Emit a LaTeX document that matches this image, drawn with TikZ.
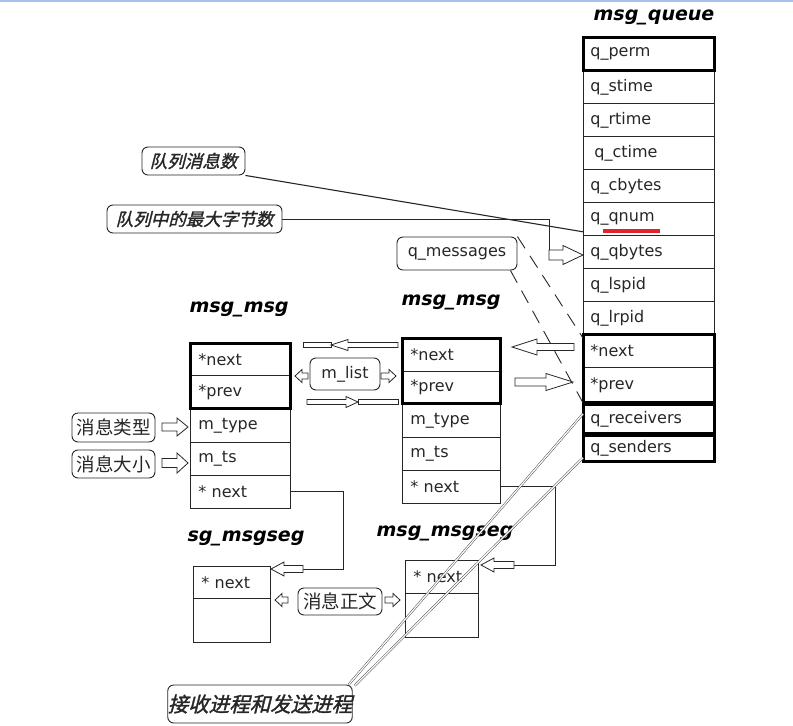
\documentclass[tikz,border=0pt]{standalone}
\usepackage{fontspec}
\newfontfamily\lab{DejaVu Sans}
\newfontfamily\ttl[FakeSlant=0.2]{DejaVu Sans}
\newfontfamily\cjk{Noto Sans CJK SC}
\newfontfamily\cjkit[FakeSlant=0.25,FakeBold=1.5]{Noto Sans CJK SC}
\newcommand{\blockarr}[6]{%
  \pgfmathsetmacro{\hb}{#2-sign(#2-#1)*#6}%
  \draw[blockarrow] (#1,{#3-#4}) -- (\hb,{#3-#4}) -- (\hb,{#3-#5}) -- (#2,#3) -- (\hb,{#3+#5}) -- (\hb,{#3+#4}) -- (#1,{#3+#4}) -- cycle;}
\tikzset{
  row/.style={draw=black!85, line width=0.8pt, rectangle, anchor=north west, inner xsep=7pt, inner ysep=0pt, align=left, font=\lab\fontsize{16}{18}\selectfont, text=black!85},
  title/.style={font=\ttl\bfseries\fontsize{19}{21}\selectfont, inner sep=0pt},
  callout/.style={draw=black!85, line width=0.9pt, rounded corners=6pt, inner sep=0pt, font=\lab\fontsize{16}{18}\selectfont, text=black!85},
  cjkcall/.style={callout, font=\cjkit\fontsize{17.5}{20}\selectfont},
  cjkplain/.style={callout, font=\cjk\fontsize{18.5}{20}\selectfont},
  blockarrow/.style={draw=black!85, line width=0.8pt, fill=white},
  thickbox/.style={draw=black, line width=3pt},
  link/.style={draw=black!85, line width=0.9pt},
  dashlink/.style={draw=black!85, line width=0.9pt, dash pattern=on 14pt off 9pt},
  duallink/.style={draw=black!70, line width=0.5pt, double=white, double distance=1.2pt},
}
\begin{document}
\begin{tikzpicture}[x=1pt,y=-1pt]
\useasboundingbox (0,0) rectangle (793,726);
\draw[color={rgb,255:red,170;green,192;blue,235}, line width=2pt] (0,1) -- (793,1);

% ---- msg_queue ----
\node[title] (tq) at (653,17) {msg\_queue};
\node[row, text width=117pt, minimum height=33pt] (qperm) at (583,37) {q\_perm};
\node[row, text width=117pt, minimum height=33pt] (qstime) at (583,70) {q\_stime};
\node[row, text width=117pt, minimum height=33pt] (qrtime) at (583,103) {q\_rtime};
\node[row, text width=117pt, minimum height=33pt] (qctime) at (583,136) {\hspace{4pt}q\_ctime};
\node[row, text width=117pt, minimum height=33pt] (qcbytes) at (583,169) {q\_cbytes};
\node[row, text width=117pt, minimum height=33pt] (qqnum) at (583,202) {q\_qnum};
\node[row, text width=117pt, minimum height=33pt] (qqbytes) at (583,235) {q\_qbytes};
\node[row, text width=117pt, minimum height=33pt] (qlspid) at (583,268) {q\_lspid};
\node[row, text width=117pt, minimum height=33pt] (qlrpid) at (583,301) {q\_lrpid};
\node[row, text width=117pt, minimum height=33pt] (qnext) at (583,334) {*next};
\node[row, text width=117pt, minimum height=35pt] (qprev) at (583,367) {*prev};
\node[row, text width=117pt, minimum height=29pt] (qrecv) at (583,404) {q\_receivers};
\node[row, text width=117pt, minimum height=26pt] (qsend) at (583,435) {q\_senders};
\draw[thickbox] (qperm.north west) rectangle (qperm.south east);
\draw[thickbox] (qnext.north west) rectangle (qprev.south east);
\draw[thickbox] (qrecv.north west) rectangle (qrecv.south east);
\draw[thickbox] (qsend.north west) rectangle (qsend.south east);
\draw[line width=3.5pt, color={rgb,255:red,225;green,35;blue,45}] (603,231) -- (660,231);

% ---- msg_msg A ----
\node[title] (ta) at (238,309) {msg\_msg};
\node[row, inner xsep=8pt, text width=84pt, minimum height=32pt] (anext) at (190,343) {*next};
\node[row, inner xsep=8pt, text width=84pt, minimum height=33pt] (aprev) at (190,375) {*prev};
\node[row, inner xsep=8pt, text width=84pt, minimum height=34pt] (atype) at (190,408) {m\_type};
\node[row, inner xsep=8pt, text width=84pt, minimum height=33pt] (ats) at (190,442) {m\_ts};
\node[row, inner xsep=8pt, text width=84pt, minimum height=33pt] (anx) at (190,475) {* next};
\draw[thickbox] (anext.north west) rectangle (aprev.south east);

% ---- msg_msg B ----
\node[title] (tb) at (450,302) {msg\_msg};
\node[row, inner xsep=8pt, text width=82pt, minimum height=33pt] (bnext) at (402,338) {*next};
\node[row, inner xsep=8pt, text width=82pt, minimum height=32pt] (bprev) at (402,371) {*prev};
\node[row, inner xsep=8pt, text width=82pt, minimum height=34pt] (btype) at (402,403) {m\_type};
\node[row, inner xsep=8pt, text width=82pt, minimum height=33pt] (bts) at (402,437) {m\_ts};
\node[row, inner xsep=8pt, text width=82pt, minimum height=33pt] (bnx) at (402,470) {* next};
\draw[thickbox] (bnext.north west) rectangle (bprev.south east);

% ---- msgseg C ----
\node[title] (tc) at (245,538) {sg\_msgseg};
\node[row, inner xsep=8pt, text width=61pt, minimum height=32pt] (cnx) at (193,566) {* next};
\node[row, inner xsep=8pt, text width=61pt, minimum height=44pt] (cbd) at (193,598) {};

% ---- msgseg D ----
\node[title] (td) at (444,533) {msg\_msgseg};
\node[row, inner xsep=8pt, text width=57pt, minimum height=33pt] (dnx) at (405,560) {* next};
\node[row, inner xsep=8pt, text width=57pt, minimum height=44pt] (dbd) at (405,593) {};

% ---- callouts ----
\node[cjkcall, minimum width=103pt, minimum height=28pt] (cnum) at (193.5,161) {队列消息数};
\node[cjkcall, minimum width=175pt, minimum height=28pt] (cmax) at (194.5,219) {队列中的最大字节数};
\node[callout, minimum width=120pt, minimum height=33pt] (qmsg) at (457,253.5) {q\_messages};
\node[callout, minimum width=70pt, minimum height=32pt] (mlist) at (345,374) {m\_list};
\node[cjkplain, minimum width=83pt, minimum height=29pt] (ctype) at (113.5,427.5) {消息类型};
\node[cjkplain, minimum width=83pt, minimum height=28pt] (csize) at (113.5,464) {消息大小};
\node[cjkplain, minimum width=84pt, minimum height=27pt] (cbody) at (340,601.5) {消息正文};
\node[cjkcall, font=\cjkit\fontsize{20.5}{22}\selectfont, minimum width=184pt, minimum height=38pt] (crecv) at (260,704) {接收进程和发送进程};

% ---- connectors ----
\draw[link, line width=1.1pt] (cnum.south east) -- ([yshift=4pt]qqnum.south west);
\draw[link] (cmax.east) -| (549,260);
\blockarr{549}{583}{255}{5}{9.5}{20}
\draw[dashlink] (qmsg.north east) -- ([yshift=-4pt]qnext.north west);
\draw[dashlink] ([xshift=-7pt]qmsg.south east) -- (qprev.south west);
\blockarr{574}{512}{347}{3.5}{8}{25}
\blockarr{515}{573}{382}{4}{8.5}{27}

% m_list arrows
\draw[blockarrow] (303,342.5) rectangle (331,347.5);
\blockarr{398}{331}{345}{2.5}{5.5}{17}
\draw[blockarrow] (358,399.5) rectangle (398,404.5);
\blockarr{307}{358}{402}{2.5}{5.5}{12}
\blockarr{308}{295}{376}{3}{6.5}{7}
\blockarr{381}{396}{376}{3}{6.5}{7}

% type / size
\blockarr{162}{188}{427}{4}{9}{11}
\blockarr{162}{188}{463}{4.5}{10}{11}

% body arrows
\blockarr{288}{275}{600}{3}{6.5}{7}
\blockarr{385}{400}{600}{3}{6.5}{7}

% next links
\draw[link] (anx.east) -| (343,569) -- (303,569);
\blockarr{303}{271}{569}{3.5}{7}{13}
\draw[link] (bnx.east) -| (555,565) -- (514,565);
\blockarr{514}{481}{565}{3.5}{7}{13}

% receivers / senders
\draw[duallink] ([xshift=-4pt]crecv.north east) -- ([yshift=5pt]qrecv.west);
\draw[duallink] ([xshift=2pt,yshift=-1pt]crecv.north east) -- ([yshift=4pt]qsend.south west);
\end{tikzpicture}
\end{document}
